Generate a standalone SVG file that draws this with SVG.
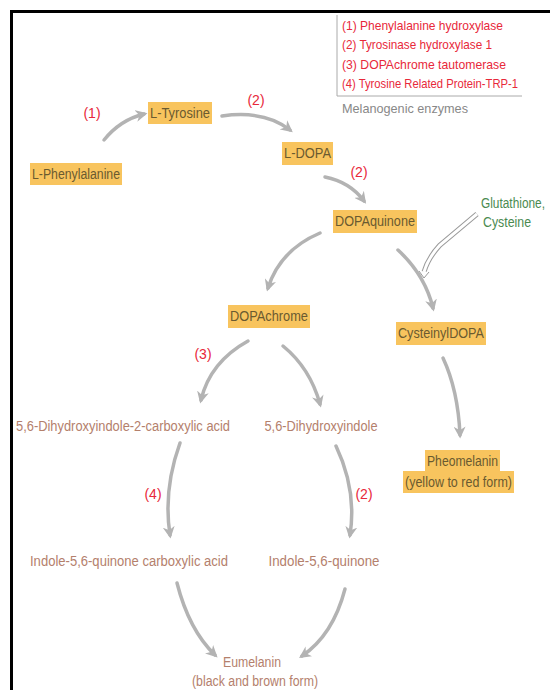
<svg xmlns="http://www.w3.org/2000/svg" width="550" height="690" viewBox="0 0 550 690">
<style>
text{font-family:"Liberation Sans Narrow","Liberation Sans",Arial,sans-serif;}
.hl{fill:#f8c45e;}
.nt{font-size:14px;fill:#6a5a30;text-anchor:middle;}
.bt{font-size:14px;fill:#b4806c;text-anchor:middle;}
.en{font-size:14px;fill:#e8283a;text-anchor:middle;}
.lg{font-size:13.5px;fill:#e8283a;}
.ar{fill:none;stroke:#b3b3b3;stroke-width:3.5;stroke-linecap:round;marker-end:url(#ah);}
</style>
<defs>
<marker id="ah" viewBox="0 0 10 10" refX="7" refY="5" markerWidth="3.4" markerHeight="3.4" orient="auto" markerUnits="strokeWidth">
<path d="M0,0 L10,5 L0,10 L3,5 z" fill="#b3b3b3"/>
</marker>
</defs>
<rect width="550" height="690" fill="#fff"/>
<path d="M11.5,690 V11.5 H550" fill="none" stroke="#000" stroke-width="3"/>

<g id="legend">
<path d="M337,15 V96 H522" fill="none" stroke="#aaa" stroke-width="1"/>
<text class="lg" x="342" y="30" textLength="161" lengthAdjust="spacingAndGlyphs">(1) Phenylalanine hydroxylase</text>
<text class="lg" x="342" y="49" textLength="150" lengthAdjust="spacingAndGlyphs">(2) Tyrosinase hydroxylase 1</text>
<text class="lg" x="342" y="69" textLength="164" lengthAdjust="spacingAndGlyphs">(3) DOPAchrome tautomerase</text>
<text class="lg" x="342" y="88" textLength="176" lengthAdjust="spacingAndGlyphs">(4) Tyrosine Related Protein-TRP-1</text>
<text x="342" y="113" font-size="13.5" fill="#888" textLength="126" lengthAdjust="spacingAndGlyphs">Melanogenic enzymes</text>
</g>

<g id="connectors">
<path class="ar" d="M104,140 Q120,120 144,114"/>
<path class="ar" d="M222,116 Q265,110 290,130"/>
<path class="ar" d="M325,177 Q350,182 364,201"/>
<path class="ar" d="M320,233 Q280,250 268,288"/>
<path class="ar" d="M398,250 Q425,275 433,308"/>
<path class="ar" d="M248,341 Q210,362 201,400"/>
<path class="ar" d="M283,346 Q310,368 320,404"/>
<path class="ar" d="M443,358 Q458,390 460,435"/>
<path class="ar" d="M180,443 Q163,490 170,535"/>
<path class="ar" d="M336,446 Q357,490 350,535"/>
<path class="ar" d="M177,583 Q189,630 215,655"/>
<path class="ar" d="M345,589 Q333,635 302,656"/>
<g id="glutathione-arrow">
<path d="M477,214 L440,245 Q428,258 424,272" fill="none" stroke="#9a9a9a" stroke-width="5" stroke-linecap="butt"/>
<path d="M477,214 L440,245 Q428,258 424,272" fill="none" stroke="#fff" stroke-width="3" stroke-linecap="butt"/>
<path d="M419,271 L424,278 L429,272" fill="#fff" stroke="#9a9a9a" stroke-width="1"/>
</g>
</g>

<g id="enzymes">
<text class="en" x="92" y="118">(1)</text>
<text class="en" x="256" y="105">(2)</text>
<text class="en" x="359" y="177">(2)</text>
<text class="en" x="203" y="359">(3)</text>
<text class="en" x="153" y="499">(4)</text>
<text class="en" x="364" y="499">(2)</text>
</g>

<g id="n-phenylalanine"><rect class="hl" x="30" y="163" width="92" height="22"/><text class="nt" x="76" y="179" textLength="88" lengthAdjust="spacingAndGlyphs">L-Phenylalanine</text></g>
<g id="n-tyrosine"><rect class="hl" x="148" y="102" width="64" height="22"/><text class="nt" x="180" y="118" textLength="60" lengthAdjust="spacingAndGlyphs">L-Tyrosine</text></g>
<g id="n-ldopa"><rect class="hl" x="282" y="142" width="51" height="23"/><text class="nt" x="307.5" y="158" textLength="47" lengthAdjust="spacingAndGlyphs">L-DOPA</text></g>
<g id="n-dopaquinone"><rect class="hl" x="333" y="210" width="84" height="23"/><text class="nt" x="375" y="226" textLength="80" lengthAdjust="spacingAndGlyphs">DOPAquinone</text></g>
<g id="n-glutathione"><text x="481" y="208" font-size="14" fill="#4a8a50" textLength="64" lengthAdjust="spacingAndGlyphs">Glutathione,</text><text x="483" y="227" font-size="14" fill="#4a8a50" textLength="48" lengthAdjust="spacingAndGlyphs">Cysteine</text></g>
<g id="n-dopachrome"><rect class="hl" x="228" y="305" width="82" height="23"/><text class="nt" x="269" y="321" textLength="78" lengthAdjust="spacingAndGlyphs">DOPAchrome</text></g>
<g id="n-cysteinyldopa"><rect class="hl" x="396" y="322" width="90" height="23"/><text class="nt" x="441" y="338" textLength="86" lengthAdjust="spacingAndGlyphs">CysteinylDOPA</text></g>
<g id="n-pheomelanin"><rect class="hl" x="425" y="450" width="75" height="22"/><rect class="hl" x="403" y="471" width="111" height="22"/><text class="nt" x="462.5" y="466" textLength="71" lengthAdjust="spacingAndGlyphs">Pheomelanin</text><text class="nt" x="458.5" y="487" textLength="107" lengthAdjust="spacingAndGlyphs">(yellow to red form)</text></g>
<g id="n-dhica"><text class="bt" x="123" y="431" textLength="214" lengthAdjust="spacingAndGlyphs">5,6-Dihydroxyindole-2-carboxylic acid</text></g>
<g id="n-dhi"><text class="bt" x="321" y="431" textLength="113" lengthAdjust="spacingAndGlyphs">5,6-Dihydroxyindole</text></g>
<g id="n-iqca"><text class="bt" x="129" y="566" textLength="198" lengthAdjust="spacingAndGlyphs">Indole-5,6-quinone carboxylic acid</text></g>
<g id="n-iq"><text class="bt" x="324" y="566" textLength="111" lengthAdjust="spacingAndGlyphs">Indole-5,6-quinone</text></g>
<g id="n-eumelanin"><text class="bt" x="252" y="667" textLength="58" lengthAdjust="spacingAndGlyphs">Eumelanin</text><text class="bt" x="255" y="686" textLength="126" lengthAdjust="spacingAndGlyphs">(black and brown form)</text></g>
</svg>
